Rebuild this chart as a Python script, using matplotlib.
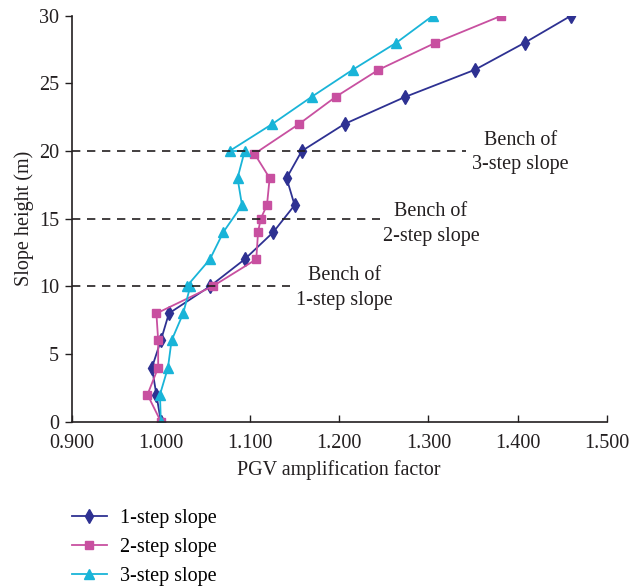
import matplotlib
matplotlib.use("Agg")
import matplotlib.pyplot as plt

plt.rcParams["font.family"] = ["Liberation Serif", "DejaVu Serif"]

# 1-step slope
h1 = [0, 2, 4, 6, 8, 10, 12, 14, 16, 18, 20, 22, 24, 26, 28, 30]
pgv1 = [1.000, 0.995, 0.990, 1.000, 1.009, 1.055, 1.094, 1.126, 1.150, 1.141,
        1.158, 1.206, 1.274, 1.352, 1.408, 1.460]

# 2-step slope
h2 = [0, 2, 4, 6, 8, 10, 12, 14, 15, 16, 18, 19.8, 22, 24, 26, 28, 30]
pgv2 = [1.000, 0.985, 0.997, 0.997, 0.995, 1.058, 1.107, 1.109, 1.112, 1.119,
        1.122, 1.105, 1.155, 1.196, 1.244, 1.308, 1.382]

# 3-step slope
h3 = [0, 2, 4, 6, 8, 10, 10, 12, 14, 16, 18, 20, 20, 22, 24, 26, 28, 30]
pgv3 = [1.000, 0.999, 1.008, 1.012, 1.025, 1.033, 1.029, 1.055, 1.070, 1.091,
        1.086, 1.094, 1.077, 1.125, 1.169, 1.215, 1.264, 1.305]

bench_heights = [10, 15, 20]
bench_ends = [1.145, 1.246, 1.342]
bench_labels = ["Bench of\n1-step slope", "Bench of\n2-step slope", "Bench of\n3-step slope"]
bench_label_x = [1.206, 1.303, 1.403]
bench_label_y = [9.9, 14.6, 19.9]

fig = plt.figure(figsize=(6.31, 5.86), dpi=100)
ax = fig.add_axes([0.1136, 0.2804, 0.8479, 0.6928])

fs = 14.5
ax.plot(pgv1, h1, color="#2E3192", marker="d", markersize=7.5, lw=1.3, label="1-step slope")
ax.plot(pgv2, h2, color="#C850A0", marker="s", markersize=5.5, lw=1.3, label="2-step slope")
ax.plot(pgv3, h3, color="#19B4D8", marker="^", markersize=6.5, lw=1.3, label="3-step slope")

for yb, xe in zip(bench_heights, bench_ends):
    ax.plot([0.9, xe], [yb, yb], color="#231F20", lw=1.2, dashes=(5, 4))
for lab, tx, ty in zip(bench_labels, bench_label_x, bench_label_y):
    ax.text(tx, ty, lab, ha="center", va="center", multialignment="center",
            fontsize=fs, color="#231F20", linespacing=1.4)

ax.set_xlim(0.9, 1.5)
ax.set_ylim(0, 30)
ax.set_xticks([0.9, 1.0, 1.1, 1.2, 1.3, 1.4, 1.5])
ax.set_xticklabels([f"{v:.3f}" for v in [0.9, 1.0, 1.1, 1.2, 1.3, 1.4, 1.5]])
ax.set_yticks([0, 5, 10, 15, 20, 25, 30])
ax.tick_params(axis="x", direction="in", length=5, width=1, labelsize=fs, pad=9, colors="#231F20")
ax.tick_params(axis="y", direction="out", length=5, width=1, labelsize=fs, pad=4, colors="#231F20")
for s in ["top", "right"]:
    ax.spines[s].set_visible(False)
for s in ["left", "bottom"]:
    ax.spines[s].set_linewidth(1.2)
    ax.spines[s].set_color("#231F20")
ax.set_xlabel("PGV amplification factor", fontsize=fs, color="#231F20", labelpad=5)
ax.set_ylabel("Slope height (m)", fontsize=fs, color="#231F20", labelpad=4)

fig.legend(loc="upper left", bbox_to_anchor=(0.1136, 0.132), frameon=False,
           fontsize=fs, borderpad=0, borderaxespad=0, handlelength=1.75,
           handletextpad=0.65, labelspacing=0.5)

fig.savefig("out.png", dpi=100)
